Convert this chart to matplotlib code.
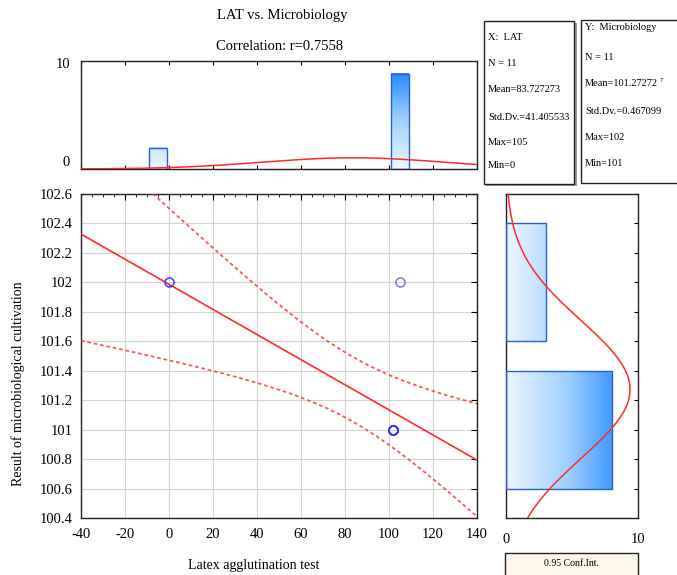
import numpy as np
import matplotlib
matplotlib.use('Agg')
import matplotlib.pyplot as plt
from matplotlib.colors import LinearSegmentedColormap
from matplotlib.patches import Rectangle
from matplotlib.ticker import MultipleLocator

plt.rcParams['font.family'] = ['Liberation Serif', 'DejaVu Serif']
plt.rcParams['axes.unicode_minus'] = False

# raw data (11 cases)
lat = [0, 0, 105, 102, 102, 102, 102, 102, 102, 102, 102]
micro = [102, 102, 102, 101, 101, 101, 101, 101, 101, 101, 101]

# marginal histograms: bin centres and counts
lat_bins = [-5, 105]
lat_counts = [2, 9]
lat_binw = 10
micro_bins = [102, 101]
micro_counts = [3, 8]
micro_binw = 1

t_crit = 2.262  # t(0.975, df=9)

x_ticks = np.arange(-40, 141, 20)
y_ticks = np.arange(100.4, 102.61, 0.2)

# ---- stats
x = np.array(lat, float)
y = np.array(micro, float)
n = len(x)
mx, my = x.mean(), y.mean()
sdx, sdy = x.std(ddof=1), y.std(ddof=1)
sxx = np.sum((x - mx)**2)
sxy = np.sum((x - mx)*(y - my))
b = sxy/sxx
a = my - b*mx
s = np.sqrt(np.sum((y - a - b*x)**2)/(n - 2))

xs = np.linspace(-40, 140, 300)
fit = a + b*xs
half = t_crit*s*np.sqrt(1/n + (xs - mx)**2/sxx)

W, H = 677, 575
fig = plt.figure(figsize=(W/100, H/100), dpi=100)

def fx(px):
    return px/W

def fy(py):
    return 1 - py/H

ax = fig.add_axes([fx(81), fy(518), fx(396), 324/H])
axt = fig.add_axes([fx(81), fy(169), fx(396), 108/H])
axr = fig.add_axes([fx(506), fy(518), fx(132), 324/H])

red = '#ff2a2a'
blue_edge = '#2560d8'
cmap = LinearSegmentedColormap.from_list('bl', ['#eef7ff', '#9ccfff', '#1a84ff'])

# ---- main scatter
ax.grid(True, color='#d4d4d4', lw=0.8)
ax.set_axisbelow(True)
ax.plot(xs, fit, color=red, lw=1.2, zorder=3)
ax.plot(xs, fit + half, color=red, lw=1.3, ls=(0, (2, 1.6)), alpha=0.8, zorder=3)
ax.plot(xs, fit - half, color=red, lw=1.3, ls=(0, (2, 1.6)), alpha=0.8, zorder=3)
ax.plot(x, y, 'o', ms=6.5, mfc='none', mec='#3a3aff', mew=1.1, alpha=0.7, zorder=4)
ax.set_xlim(-40, 140)
ax.set_ylim(100.4, 102.6)
ax.set_xticks(x_ticks)
ax.set_yticks(y_ticks)
ax.set_yticklabels(['100.4', '100.6', '100.8', '101', '101.2', '101.4', '101.6',
                    '101.8', '102', '102.2', '102.4', '102.6'])
ax.xaxis.set_minor_locator(MultipleLocator(5))
ax.tick_params(which='major', direction='in', length=4, left=False, bottom=False,
               right=True, top=True, labelsize=10.5, pad=7)
ax.tick_params(axis='y', pad=6)
ax.tick_params(which='minor', direction='in', length=2, left=False, bottom=False,
               right=False, top=True)

fig.text(fx(254), fy(565), 'Latex agglutination test', ha='center', va='center', fontsize=10)
fig.text(fx(18), fy(384), 'Result of microbiological cultivation', ha='center', va='center',
         rotation=90, fontsize=10)

# ---- top histogram
for c, cnt in zip(lat_bins, lat_counts):
    x0, x1 = c - 0.4*lat_binw, c + 0.4*lat_binw
    grad = np.linspace(0, cnt, 100).reshape(-1, 1)
    axt.imshow(grad, extent=(x0, x1, 0, cnt), origin='lower', cmap=cmap, vmin=0, vmax=9.5,
               aspect='auto', zorder=2)
    axt.add_patch(Rectangle((x0, 0), x1 - x0, cnt, fill=False, ec=blue_edge, lw=1, zorder=3))
curve_t = n*lat_binw/(sdx*np.sqrt(2*np.pi))*np.exp(-0.5*((xs - mx)/sdx)**2)
axt.plot(xs, curve_t, color=red, lw=1.1, zorder=4)
axt.set_xlim(-40, 140)
axt.set_ylim(0, 10.2)
axt.set_xticks(x_ticks)
axt.set_xticklabels([])
axt.set_yticks([0, 10])
axt.tick_params(axis='x', direction='in', length=3, top=True, bottom=True)
axt.tick_params(axis='y', length=0, labelsize=10.5, pad=8)
axt.get_yticklabels()[0].set_va('bottom')

# ---- right histogram
ys = np.linspace(100.4, 102.6, 300)
for c, cnt in zip(micro_bins, micro_counts):
    y0, y1 = c - 0.4*micro_binw, c + 0.4*micro_binw
    grad = np.linspace(0, cnt, 100).reshape(1, -1)
    axr.imshow(grad, extent=(0, cnt, y0, y1), origin='lower', cmap=cmap, vmin=0, vmax=9.5,
               aspect='auto', zorder=2)
    axr.add_patch(Rectangle((0, y0), cnt, y1 - y0, fill=False, ec=blue_edge, lw=1, zorder=3))
curve_r = n*micro_binw/(sdy*np.sqrt(2*np.pi))*np.exp(-0.5*((ys - my)/sdy)**2)
axr.plot(curve_r, ys, color=red, lw=1.1, zorder=4)
axr.set_xlim(0, 10)
axr.set_ylim(100.4, 102.6)
axr.set_yticks(y_ticks)
axr.set_yticklabels([])
axr.set_xticks([0, 10])
axr.tick_params(axis='y', direction='in', length=3, left=False, right=True)
axr.tick_params(axis='x', length=0, labelsize=10.5, pad=11)

for a_ in (ax, axt, axr):
    for sp in a_.spines.values():
        sp.set_color('#222222')
        sp.set_linewidth(1.0)

# ---- titles
fig.text(fx(282), fy(15), 'LAT vs. Microbiology', ha='center', va='center', fontsize=10.5)
fig.text(fx(280), fy(47), 'Correlation: r=%.4f' % abs(sxy/np.sqrt(sxx*np.sum((y - my)**2))),
         ha='center', va='center', fontsize=10.5)

# ---- stats boxes
fig.add_artist(Rectangle((fx(486), fy(186)), fx(91), 163/H, transform=fig.transFigure,
                         fc='#9a9a9a', ec='none'))
fig.add_artist(Rectangle((fx(484), fy(184)), fx(90), 163/H, transform=fig.transFigure,
                         fc='white', ec='#222222', lw=1.0))
fig.add_artist(Rectangle((fx(581), fy(183)), fx(110), 163/H, transform=fig.transFigure,
                         fc='white', ec='#222222', lw=1.0))

x_lines = ['X:  LAT', 'N = %d' % n, 'Mean=%.6f' % mx, 'Std.Dv.=%.6f' % sdx,
           'Max=%g' % x.max(), 'Min=%g' % x.min()]
x_rows = [37, 64, 90, 117, 143, 166]
for txt, r_ in zip(x_lines, x_rows):
    fig.text(fx(488), fy(r_), txt, ha='left', va='center', fontsize=7.5)

y_lines = ['Y:  Microbiology', 'N = %d' % n, 'Mean=101.27272', 'Std.Dv.=%.6f' % sdy,
           'Max=%g' % y.max(), 'Min=%g' % y.min()]
y_rows = [28, 57, 83, 112, 138, 164]
for txt, r_ in zip(y_lines, y_rows):
    t = fig.text(fx(585), fy(r_), txt, ha='left', va='center', fontsize=7.5)
    if txt.startswith('Mean'):
        fig.add_artist(plt.Annotation('7', xy=(1, 1), xycoords=t, xytext=(1, 0),
                                      textcoords='offset points', va='top', ha='left',
                                      fontsize=5))

# ---- conf. int. legend box
fig.add_artist(Rectangle((fx(505), fy(585)), fx(133), 32/H, transform=fig.transFigure,
                         fc='#fdf8ea', ec='#222222', lw=1.0))
fig.text(fx(571), fy(564), '0.95 Conf.Int.', ha='center', va='center', fontsize=7)

fig.savefig('out.png', dpi=100)
